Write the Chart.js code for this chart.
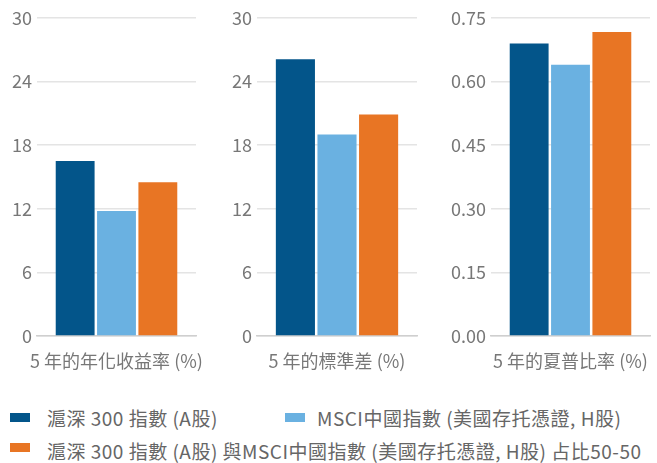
<!DOCTYPE html>
<html>
<head>
<meta charset="utf-8">
<script src="https://cdn.jsdelivr.net/npm/chart.js@4"></script>
<style>
  body { margin: 0; background: #fff; width: 657px; height: 463px; overflow: hidden; position: relative;
         font-family: "Noto Sans CJK TC", "Noto Sans", sans-serif; }
  canvas { position: absolute; top: 0; }
  .leg { position: absolute; font-size: 19px; color: #666; white-space: nowrap; line-height: 22px; letter-spacing: 0.5px; }
  .sw { position: absolute; width: 20px; height: 9px; }
</style>
</head>
<body>
<canvas id="c1" width="205" height="380" style="left:0px"></canvas>
<canvas id="c2" width="205" height="380" style="left:220px"></canvas>
<canvas id="c3" width="220" height="380" style="left:437px"></canvas>

<div class="sw" style="left:10px; top:413px; background:#03558a"></div>
<div class="leg" id="l1" style="left:47px; top:407px">滬深 300 指數 (A股)</div>
<div class="sw" style="left:285px; top:413px; background:#6ab1e1"></div>
<div class="leg" id="l2" style="left:317px; top:407px">MSCI中國指數 (美國存托憑證, H股)</div>
<div class="sw" style="left:10px; top:443px; background:#e87524"></div>
<div class="leg" id="l3" style="left:47px; top:440px">滬深 300 指數 (A股) 與MSCI中國指數 (美國存托憑證, H股) 占比50-50</div>

<script>
// 三個指標
const seriesNames = ["滬深 300 指數 (A股)", "MSCI中國指數 (美國存托憑證, H股)", "滬深 300 指數 (A股) 與MSCI中國指數 (美國存托憑證, H股) 占比50-50"];
const colores = ["#03558a", "#6ab1e1", "#e87524"];

const retorno = [16.5, 11.8, 14.5];     // 5 年的年化收益率
const volatilidad = [26.1, 19.0, 20.9]; // 5 年的標準差
const sharpe = [0.69, 0.64, 0.717];     // 5 年的夏普比率

const etiquetas = ["5 年的年化收益率 (%)", "5 年的標準差 (%)", "5 年的夏普比率 (%)"];

const fuente = { family: '"Noto Sans CJK TC", "Noto Sans", sans-serif', size: 18 };

function graficar(id, etiqueta, valores, max, paso, decimales, anchoY, derecha) {
    const ctx = document.getElementById(id).getContext('2d');
    return new Chart(ctx, {
        type: 'bar',
        data: {
            labels: [etiqueta],
            datasets: valores.map((v, i) => ({
                label: seriesNames[i],
                data: [v],
                backgroundColor: colores[i],
                borderWidth: 0,
                categoryPercentage: 0.78,
                barPercentage: 0.94
            }))
        },
        options: {
            responsive: false,
            animation: false,
            layout: { padding: { top: 18, right: derecha, bottom: 0, left: 0 } },
            plugins: { legend: { display: false }, tooltip: { enabled: false } },
            scales: {
                x: {
                    grid: { display: false, drawTicks: false },
                    border: { display: true, color: '#cfcfcf', width: 1.5 },
                    ticks: { color: '#777', font: fuente, padding: 14 },
                    afterFit: s => { s.height = 44; s.paddingLeft = 0; s.paddingRight = 0; }
                },
                y: {
                    min: 0, max: max,
                    grid: { color: '#e4e4e4', lineWidth: 1.5, drawTicks: false },
                    border: { display: false },
                    ticks: {
                        stepSize: paso, color: '#777', font: fuente, padding: 5,
                        callback: v => v.toFixed(decimales)
                    },
                    afterFit: s => { s.width = anchoY; }
                }
            }
        }
    });
}

graficar('c1', etiquetas[0], retorno, 30, 6, 0, 37, 9);
graficar('c2', etiquetas[1], volatilidad, 30, 6, 0, 37, 8);
graficar('c3', etiquetas[2], sharpe, 0.75, 0.15, 2, 54, 7);
</script>
</body>
</html>
